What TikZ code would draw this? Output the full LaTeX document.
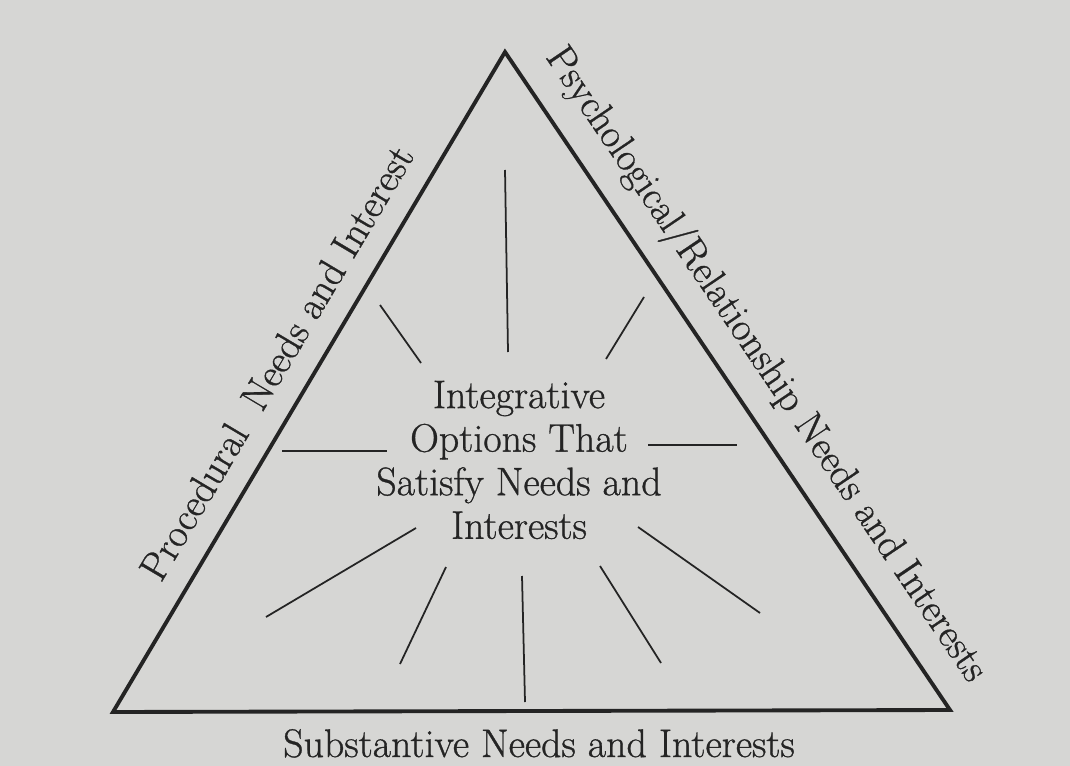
\documentclass[tikz,border=0pt]{standalone}
\usepackage{fontspec}
\usepackage{tikz}
\usetikzlibrary{calc}

\newfontfamily\inkfont[RawFeature={embolden=0.8}]{Latin Modern Roman}

\definecolor{paper}{RGB}{214,214,212}
\definecolor{ink}{RGB}{36,36,36}

\begin{document}
\begin{tikzpicture}[
  x=0.02cm, y=-0.02cm,
  edge/.style={line width=2.2pt, draw=ink, line join=miter},
  ray/.style={line width=1pt, draw=ink},
  sidelabel/.style={font=\inkfont\fontsize{22.7}{25}\selectfont, text=ink,
                    inner sep=0pt, text depth=0pt},
  corelabel/.style={font=\inkfont\fontsize{22.7}{24.8}\selectfont, text=ink,
                    align=center, inner sep=0pt}
]

% ── Paper ──
\useasboundingbox (0,0) rectangle (1070,766);
\fill[paper] (0,0) rectangle (1070,766);

% ── Triangle ──
\coordinate (apex) at (505,52);
\coordinate (lcorner) at (113,712);
\coordinate (rcorner) at (950,710);
\draw[edge] (apex) -- (lcorner) -- (rcorner) -- cycle;

% ── Centre text ──
\node[corelabel] (core) at (519,460)
  {Integrative\\Options That\\Satisfy Needs and\\Interests};

% ── Rays round the centre ──
\draw[ray] (505,170) -- (508,352);
\draw[ray] (380,305) -- (421,363);
\draw[ray] (644,297) -- (606,359);
\draw[ray] (282,451) -- (387,451);
\draw[ray] (648,445) -- (737,445);
\draw[ray] (266,617) -- (416,528);
\draw[ray] (400,664) -- (446,567);
\draw[ray] (522,576) -- (525,702);
\draw[ray] (600,566) -- (661,663);
\draw[ray] (638,527) -- (760,613);

% ── Side labels ──
\path (lcorner) -- (apex)
  node[sidelabel, midway, sloped, above=0.48cm] (proc)
  {Procedural\ \ Needs and Interest};
\path (apex) -- (rcorner)
  node[sidelabel, pos=0.51, sloped, above=0.6cm] (psych)
  {Psychological/Relationship Needs and Interests};
\node[sidelabel, anchor=base] (subst) at (539,757)
  {Substantive Needs and Interests};

\end{tikzpicture}
\end{document}
